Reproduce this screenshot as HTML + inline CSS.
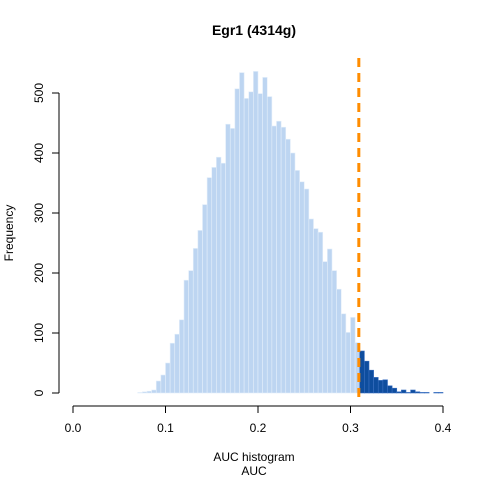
<!DOCTYPE html>
<html><head><meta charset="utf-8"><style>
body{margin:0;background:#fff}
svg text{font-family:"Liberation Sans",sans-serif;fill:#000}
</style></head><body>
<svg id="chart" width="480" height="480" viewBox="0 0 480 480">
<text x="254" y="35" text-anchor="middle" font-size="14" font-weight="bold">Egr1 (4314g)</text>
<text x="254" y="461" text-anchor="middle" font-size="12">AUC histogram</text>
<text x="254" y="475" text-anchor="middle" font-size="12">AUC</text>
<text transform="translate(13,233) rotate(-90)" text-anchor="middle" font-size="12">Frequency</text>
<g id="bars"></g>
<g id="axes"></g>
</svg>
<script>
const binStarts = [0.07,0.075,0.08,0.085,0.09,0.095,0.1,0.105,0.11,0.115,0.12,0.125,0.13,0.135,0.14,0.145,0.15,0.155,0.16,0.165,0.17,0.175,0.18,0.185,0.19,0.195,0.2,0.205,0.21,0.215,0.22,0.225,0.23,0.235,0.24,0.245,0.25,0.255,0.26,0.265,0.27,0.275,0.28,0.285,0.29,0.295,0.3,0.305,0.31,0.315,0.32,0.325,0.33,0.335,0.34,0.345,0.35,0.355,0.36,0.365,0.37,0.375,0.38,0.385,0.39,0.395];
const counts = [1,2,3,5,20,30,50,83,98,122,188,204,241,271,314,359,376,393,383,448,441,507,534,491,502,536,499,526,494,445,453,443,423,400,371,352,340,290,274,268,219,240,204,173,132,101,126,84,70,53,38,26,21,22,12,8,2,5,1,5,2,1,1,0,1,1];
const binWidth = 0.005;
const threshold = 0.309;
const xTicks = [0,0.1,0.2,0.3,0.4];
const xTickLabels = ["0.0","0.1","0.2","0.3","0.4"];
const yTicks = [0,100,200,300,400,500];
const xs = v => 73 + v*925;
const ys = v => 393 - v*0.6;
const NS = "http://www.w3.org/2000/svg";
const bars = document.getElementById('bars');
const axes = document.getElementById('axes');
binStarts.forEach((b,i)=>{
  const r = document.createElementNS(NS,'rect');
  const x0 = xs(b), x1 = xs(b+binWidth);
  r.setAttribute('x',x0); r.setAttribute('width',x1-x0);
  r.setAttribute('y',ys(counts[i])); r.setAttribute('height',ys(0)-ys(counts[i]));
  const dark = b >= threshold;
  r.setAttribute('fill', dark ? '#0e4d9e' : '#bdd5f1');
  r.setAttribute('stroke', dark ? '#3a6fc0' : '#e3eefa');
  r.setAttribute('stroke-width','0.6');
  
  
  bars.appendChild(r);
});
const line = document.createElementNS(NS,'line');
line.setAttribute('x1',xs(threshold)); line.setAttribute('x2',xs(threshold));
line.setAttribute('y1',58); line.setAttribute('y2',400);
line.setAttribute('stroke','#ff8c00'); line.setAttribute('stroke-width','3');
line.setAttribute('stroke-dasharray','9 6');


bars.appendChild(line);
function mk(tag, attrs){const e=document.createElementNS(NS,tag);for(const k in attrs)e.setAttribute(k,attrs[k]);axes.appendChild(e);return e;}
const xl = mk('line',{x1:xs(0),x2:xs(0.4),y1:406,y2:406,stroke:'#000'});


xTicks.forEach((t,i)=>{
  const tk = mk('line',{x1:xs(t),x2:xs(t),y1:406,y2:413,stroke:'#000'});
  
  
  const tx = mk('text',{x:xs(t),y:432,'text-anchor':'middle','font-size':12});
  tx.textContent = xTickLabels[i];
  
  
});
const yl = mk('line',{x1:59,x2:59,y1:ys(0),y2:ys(500),stroke:'#000'});


yTicks.forEach(t=>{
  const tk = mk('line',{x1:52,x2:59,y1:ys(t),y2:ys(t),stroke:'#000'});
  
  
  const tx = mk('text',{transform:`translate(43,${ys(t)}) rotate(-90)`,'text-anchor':'middle','font-size':12});
  tx.textContent = String(t);
  
  
});
</script>
</body></html>
